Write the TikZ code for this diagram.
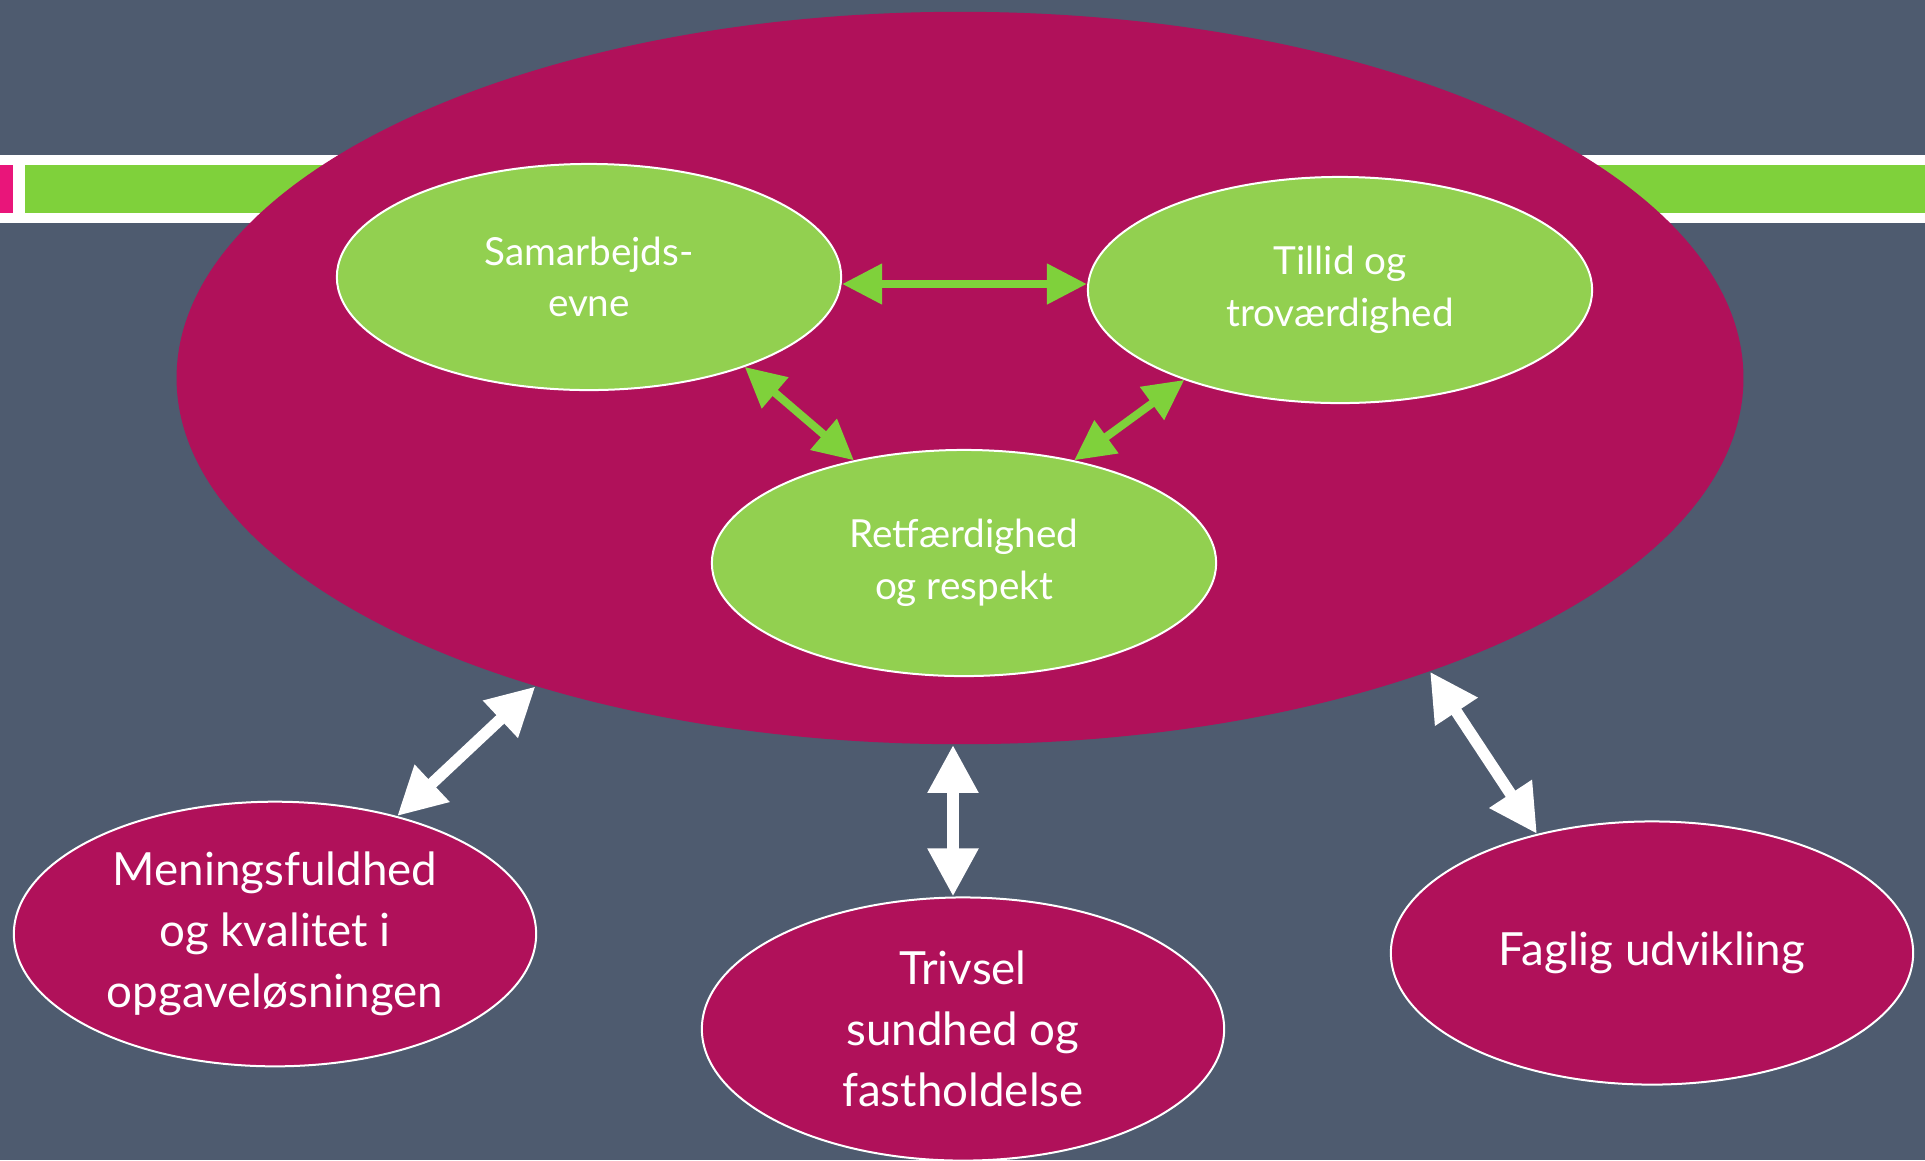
\documentclass[tikz,border=0pt]{standalone}
\usepackage{fontspec}
\setmainfont{Lato}
\usetikzlibrary{shapes.geometric,arrows.meta}
\definecolor{slate}{HTML}{4E5B6F}
\definecolor{plum}{HTML}{B0115A}
\definecolor{leaf}{HTML}{92D050}
\definecolor{lime}{HTML}{7FD13B}
\definecolor{rose}{HTML}{E9157A}
\tikzset{
  inner/.style={ellipse, fill=leaf, draw=white, line width=0.2mm, minimum width=5.04cm, minimum height=2.26cm, text=white, align=center, font=\fontsize{11}{14.7}\selectfont},
  outer/.style={ellipse, fill=plum, draw=white, line width=0.2mm, minimum width=5.22cm, minimum height=2.63cm, text=white, align=center, font=\fontsize{13}{17.3}\selectfont},
  greenarrow/.style={lime, line width=0.8mm, {Triangle[length=4mm,width=3.9mm]}-{Triangle[length=4mm,width=3.9mm]}},
  whitearrow/.style={white, line width=1.15mm, {Triangle[length=4.8mm,width=4.8mm]}-{Triangle[length=4.8mm,width=4.8mm]}}
}
\begin{document}
\begin{tikzpicture}[x=0.01cm,y=-0.01cm]
        % Background and band
        \fill[slate] (0,0) rectangle (1925,1160);
        \useasboundingbox (0,0) rectangle (1925,1160);
        \fill[white] (0,155) rectangle (1925,223);
        \fill[rose] (0,165) rectangle (13,213);
        \fill[lime] (25,165) rectangle (1925,213);
        % Big ellipse
        \node[ellipse, fill=plum, minimum width=15.66cm, minimum height=7.32cm, inner sep=0pt] (big) at (960,378) {};
        % Inner values
        \node[inner] (sam) at (589,277) {Samarbejds-\\evne};
        \node[inner] (til) at (1340,290) {Tillid og\\troværdighed};
        \node[inner] (ret) at (964,563) {Retfærdighed\\og respekt};
        % Outcomes
        \node[outer] (men) at (275,934) {Meningsfuldhed\\og kvalitet i\\opgaveløsningen};
        \node[outer] (triv) at (963,1029) {Trivsel\\sundhed og\\fastholdelse};
        \node[outer] (fag) at (1652,953) {Faglig udvikling};
        % Arrows
        \draw[greenarrow] ([yshift=-0.07cm]sam.east) -- ([yshift=-0.07cm]sam.east -| til.west);
        \draw[greenarrow] (sam.-30) -- (ret.137);
        \draw[greenarrow] (til.-150) -- (ret.43);
        \draw[whitearrow] (big.-144) -- (men.44);
        \draw[whitearrow] ([xshift=-0.07cm]big.south) -- ([xshift=-0.07cm]big.south |- triv.north);
        \draw[whitearrow] (big.-32) -- (fag.134);
\end{tikzpicture}
\end{document}
